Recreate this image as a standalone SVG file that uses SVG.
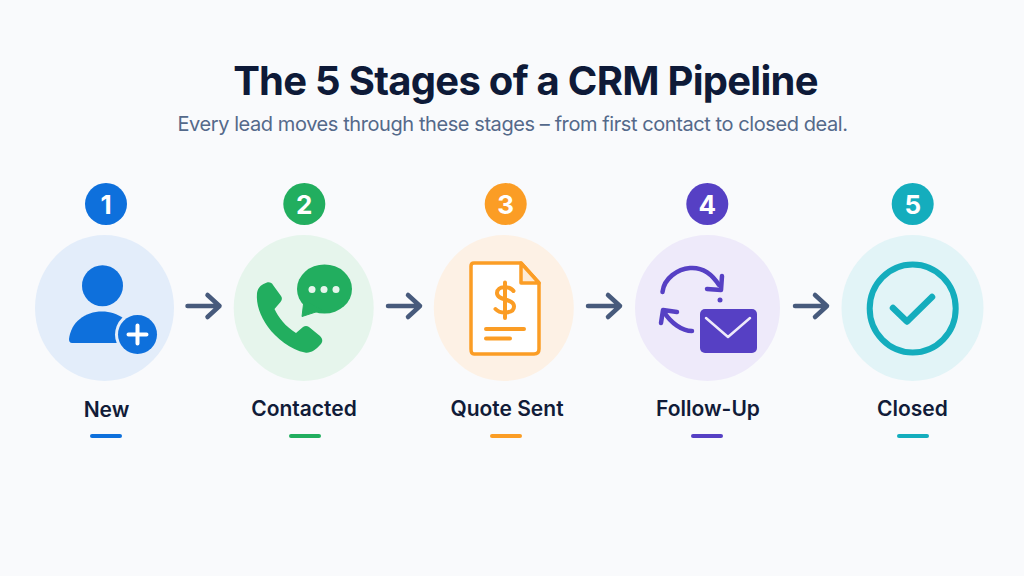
<svg xmlns="http://www.w3.org/2000/svg" width="1024" height="576" viewBox="0 0 1024 576">
<style>
text{font-family:"Inter","Liberation Sans",sans-serif;text-anchor:middle}
.title{font-size:40px;font-weight:700;fill:#0e1a38;letter-spacing:-.73px}
.sub{font-size:20px;font-weight:400;fill:#54698a;letter-spacing:-.42px}
.num{font-size:26px;font-weight:700;fill:#fff}
.lab{font-size:21px;font-weight:600;fill:#111b38}
.ar{fill:none;stroke:#475a7c;stroke-width:4.5;stroke-linecap:round;stroke-linejoin:round}
.und{stroke-width:4;stroke-linecap:round}
</style>
<defs>
<path id="arrow" class="ar" d="M0 0H32M20 -11L32 0L20 11"/>
</defs>
<rect width="1024" height="576" fill="#f9fafc"/>
<text class="title" x="525.500" y="95">The 5 Stages of a CRM Pipeline</text>
<text class="sub" x="512.500" y="131">Every lead moves through these stages – from first contact to closed deal.</text>
<g id="connectors">
<use href="#arrow" x="187.500" y="306"/>
<use href="#arrow" x="388" y="306"/>
<use href="#arrow" x="588" y="306"/>
<use href="#arrow" x="795" y="306"/>
</g>
<g id="node-1">
<ellipse cx="104.500" cy="308" rx="69.500" ry="73" fill="#e3edfa"/>
<circle cx="106" cy="204" r="21" fill="#0e70dc"/>
<text class="num" x="106" y="213.500">1</text>
<circle cx="102.500" cy="285.700" r="20.500" fill="#0e70dc"/>
<path d="M69 339C71 322 85 311.500 102 311.500C118 311.500 132 321 136 339Q136 343 132 343H72Q69 343 69 339Z" fill="#0e70dc"/>
<circle cx="137.500" cy="334.500" r="22.500" fill="#e3edfa"/>
<circle cx="137.500" cy="334.500" r="19.500" fill="#0e70dc"/>
<path d="M137.500 325.500V343.500M128.500 334.500H146.500" stroke="#fff" stroke-width="4" stroke-linecap="round"/>
<text class="lab" x="106.500" y="417">New</text>
<path class="und" d="M92 436H120" stroke="#0e70dc"/>
</g>
<g id="node-2">
<ellipse cx="303.700" cy="308" rx="70" ry="73" fill="#e6f5ec"/>
<circle cx="304.300" cy="204" r="21" fill="#22ae5f"/>
<text class="num" x="304.300" y="213.500">2</text>
<path d="M257 293C258 287 262 284 267 282.500C270 282 272 283 273 285L281 296C282.500 298 282 300 280.500 302L274.500 309C278 317 286 327 296 333L303 327C305 325.500 307 325.500 309 327L320 336C323 339 323 342 320 345C316 350 310 353.500 305 352.500C291 350 276 338 268 327C260 316 256 304 257 293Z" fill="#22ae5f"/>
<ellipse cx="324.500" cy="289" rx="27.500" ry="24.500" fill="#22ae5f"/>
<path d="M304 300L302 316.500L322 310Z" fill="#22ae5f" stroke="#22ae5f" stroke-width="1" stroke-linejoin="round"/>
<circle cx="312" cy="289.500" r="3.500" fill="#e6f5ec"/>
<circle cx="324" cy="289.500" r="3.500" fill="#e6f5ec"/>
<circle cx="336" cy="289.500" r="3.500" fill="#e6f5ec"/>
<text class="lab" x="304" y="416">Contacted</text>
<path class="und" d="M291 436H319" stroke="#22ae5f"/>
</g>
<g id="node-3">
<ellipse cx="503.800" cy="308" rx="70" ry="73" fill="#fdf1e5"/>
<circle cx="505.700" cy="204" r="21" fill="#fb9d25"/>
<text class="num" x="505.700" y="213.500">3</text>
<path d="M474 263H521L539 283V349Q539 354 534 354H474Q471 354 471 349V266Q471 263 474 263Z" fill="#fff" stroke="#fb9d25" stroke-width="3.500" stroke-linejoin="round"/>
<path d="M521 263V283H539Z" fill="#fdebd6" stroke="#fb9d25" stroke-width="3.500" stroke-linejoin="round"/>
<path d="M513.500 291C510 286 497 285.500 497 293C497 301 514 298 514 306.500C514 314 500 314 495.500 309M505 282.500V318" fill="none" stroke="#fb9d25" stroke-width="4" stroke-linecap="round"/>
<path d="M486 329H524M486 338.500H510" stroke="#fb9d25" stroke-width="4" stroke-linecap="round"/>
<text class="lab" x="507" y="416">Quote Sent</text>
<path class="und" d="M492 436H520" stroke="#fb9d25"/>
</g>
<g id="node-4">
<ellipse cx="707.500" cy="308" rx="72.500" ry="73" fill="#eeeafa"/>
<circle cx="707.300" cy="204" r="21" fill="#5640c4"/>
<text class="num" x="707.300" y="213.500">4</text>
<path d="M662.500 292C664 278 678 269 690 268C702 267 712 274 719 285" fill="none" stroke="#5640c4" stroke-width="4.500" stroke-linecap="round"/>
<path d="M722 276L721 290L707 289" fill="none" stroke="#5640c4" stroke-width="4.500" stroke-linecap="round" stroke-linejoin="round"/>
<path d="M664 312C671 323 682 331 692 331" fill="none" stroke="#5640c4" stroke-width="4.500" stroke-linecap="round"/>
<path d="M661 323L663 310L677 312" fill="none" stroke="#5640c4" stroke-width="4.500" stroke-linecap="round" stroke-linejoin="round"/>
<circle cx="720" cy="300" r="2.500" fill="#5640c4"/>
<rect x="700" y="309" width="57" height="44" rx="5" fill="#5640c4"/>
<path d="M706 318L728 337L750 318" fill="none" stroke="#eeeafa" stroke-width="2.500" stroke-linecap="round" stroke-linejoin="round"/>
<text class="lab" x="708" y="416">Follow-Up</text>
<path class="und" d="M693 436H721" stroke="#5640c4"/>
</g>
<g id="node-5">
<ellipse cx="912.500" cy="308" rx="71" ry="73" fill="#e2f4f7"/>
<circle cx="912.700" cy="204" r="21" fill="#14adbd"/>
<text class="num" x="912.700" y="213.500">5</text>
<ellipse cx="912.700" cy="308.500" rx="43" ry="44" fill="none" stroke="#14adbd" stroke-width="6"/>
<path d="M893 308L907 321.500L932 297" fill="none" stroke="#14adbd" stroke-width="6.500" stroke-linecap="round" stroke-linejoin="round"/>
<text class="lab" x="912.500" y="416">Closed</text>
<path class="und" d="M899 436H927" stroke="#14adbd"/>
</g>
</svg>
